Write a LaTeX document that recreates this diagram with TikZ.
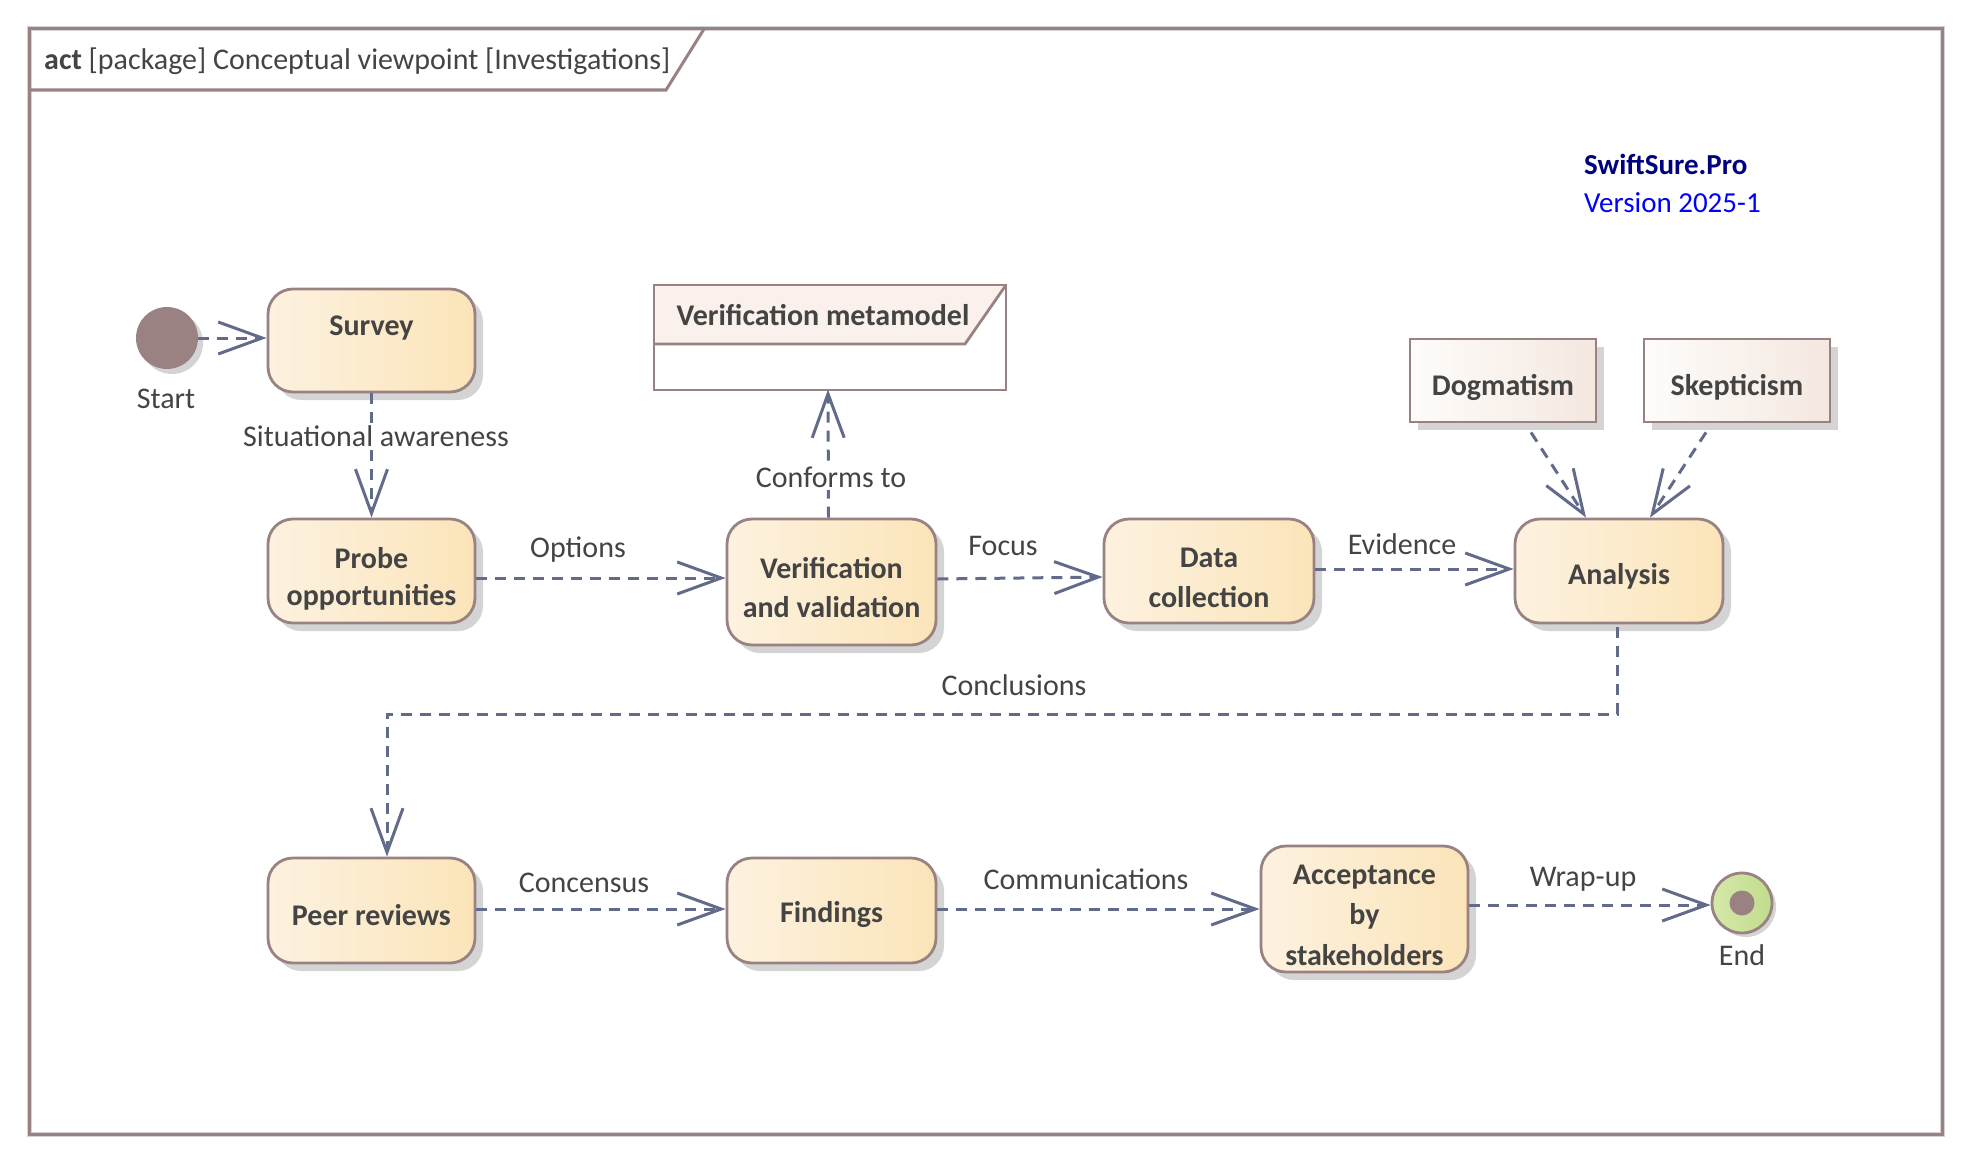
\documentclass[tikz,border=0pt]{standalone}
\usepackage{fontspec}
\setmainfont{Carlito}
\usetikzlibrary{arrows.meta,shadows,calc}
\definecolor{edgec}{RGB}{98,108,138}
\definecolor{boxline}{RGB}{154,130,130}
\definecolor{txt}{RGB}{68,68,68}
\definecolor{actl}{RGB}{253,242,224}
\definecolor{actr}{RGB}{251,228,185}
\definecolor{cll}{RGB}{254,252,250}
\definecolor{clr}{RGB}{244,232,224}
\definecolor{shadc}{RGB}{212,212,212}
\definecolor{hdr}{RGB}{250,240,236}
\definecolor{endl}{RGB}{214,232,170}
\definecolor{endr}{RGB}{192,220,140}
\definecolor{navy}{RGB}{0,0,128}
\tikzset{
  shad/.style={drop shadow={shadow xshift=8pt,shadow yshift=-8pt,fill=shadc,opacity=1}},
  actbox/.style={draw=boxline,line width=2.8pt,rounded corners=25pt,left color=actl,right color=actr,shad,minimum width=207pt,inner sep=0pt},
  clsbox/.style={draw=boxline,line width=2.8pt,left color=cll,right color=clr,shad,minimum width=186pt,minimum height=83pt,inner sep=0pt},
  btxt/.style={font=\fontsize{30}{34}\selectfont\bfseries,text=txt,align=center,inner sep=0pt,yshift=-2pt},
  ltxt/.style={font=\fontsize{30}{34}\selectfont,text=txt,inner sep=0pt,yshift=-2pt},
  flow/.style={draw=edgec,line width=3pt,dash pattern=on 11pt off 8pt,-{Straight Barb[length=44pt,width=32pt,line width=3pt]}}
}
\begin{document}
\begin{tikzpicture}[x=1pt,y=-1pt]
\useasboundingbox (0,0) rectangle (1971,1164);
% frame
\draw[draw=shadc,line width=5pt] (29,29) rectangle (1942,1134);
\draw[draw=boxline,line width=3pt] (29,29) rectangle (1942,1134);
\draw[draw=boxline,line width=3pt] (29,90) -- (666,90) -- (704,29);
\node[ltxt,anchor=west] (title) at (44,59) {\textbf{act} [package] Conceptual viewpoint [Investigations]};
% brand
\node[font=\fontsize{29}{33}\selectfont\bfseries,text=navy,anchor=west,inner sep=0pt] (brand) at (1584,164) {SwiftSure.Pro};
\node[font=\fontsize{29}{33}\selectfont,text=blue,anchor=west,inner sep=0pt] (ver) at (1584,203) {Version 2025-1};
% start
\node[circle,fill=boxline,minimum size=62pt,inner sep=0pt,drop shadow={shadow xshift=5pt,shadow yshift=-5pt,fill=shadc,opacity=1}] (start) at (167,338) {};
\node[ltxt] (startl) at (166,397) {Start};
% activities
\node[actbox,minimum height=103pt] (survey) at (371.5,340.5) {};
\node[btxt] at (371.5,326) {Survey};
\node[actbox,minimum height=104pt] (probe) at (371.5,571) {};
\node[btxt] at (371.5,556) {Probe};
\node[btxt] at (371.5,595) {opportunities};
\node[actbox,minimum height=126pt,minimum width=209pt] (vv) at (831.5,582) {};
\node[btxt] at (831.5,566) {Verification};
\node[btxt] at (831.5,605) {and validation};
\node[actbox,minimum height=104pt,minimum width=210pt] (data) at (1209,571) {};
\node[btxt] at (1209,556) {Data};
\node[btxt] at (1209,595) {collection};
\node[actbox,minimum height=104pt,minimum width=208pt] (analysis) at (1619,571) {};
\node[btxt] at (1619,574) {Analysis};
\node[actbox,minimum height=105pt] (peer) at (371.5,910.5) {};
\node[btxt] at (371.5,913) {Peer reviews};
\node[actbox,minimum height=105pt,minimum width=209pt] (findings) at (831.5,910.5) {};
\node[btxt] at (831.5,913) {Findings};
\node[actbox,minimum height=126pt] (accept) at (1364.5,909) {};
\node[btxt] at (1364.5,875) {Acceptance};
\node[btxt] at (1364.5,914) {by};
\node[btxt] at (1364.5,953) {stakeholders};
% end
\node[circle,draw=boxline,line width=2.8pt,left color=endl,right color=endr,minimum size=60pt,inner sep=0pt,drop shadow={shadow xshift=4pt,shadow yshift=-4pt,fill=shadc,opacity=1}] (end) at (1742,903) {};
\node[circle,fill=boxline,minimum size=25pt,inner sep=0pt] (endd) at (1742,903) {};
\node[ltxt] (endl) at (1742,953) {End};
% metamodel
\node[draw=boxline,line width=2.8pt,fill=white,minimum width=352pt,minimum height=105pt,inner sep=0pt] (meta) at (830,337.5) {};
\fill[hdr] (655.4,286.4) -- (1004.6,286.4) -- (965,344) -- (655.4,344) -- cycle;
\draw[draw=boxline,line width=2.8pt] (654,344) -- (965,344) -- (1006,285);
\node[btxt] at (823,313) {Verification metamodel};
% classes
\node[clsbox] (dogma) at (1503,380.5) {};
\node[btxt] at (1503,385) {Dogmatism};
\node[clsbox] (skep) at (1737,380.5) {};
\node[btxt] at (1737,385) {Skepticism};
% flows
\draw[flow] (start.east) -- (survey.west |- start.east);
\draw[flow] (survey.south) -- (probe.north);
\node[ltxt,fill=white,inner sep=2pt] at (376,434) {Situational awareness};
\draw[flow] (probe.east |- 0,578) -- (vv.west |- 0,578);
\node[ltxt] at (578,548) {Options};
\draw[flow] ($(vv.north)+(-3,0)$) -- ($(meta.south)+(-2,-2)$);
\node[ltxt,fill=white,inner sep=3pt] at (831,475) {Conforms to};
\draw[flow] (vv.east |- 0,579) -- (data.west |- 0,577);
\node[ltxt] at (1003,544) {Focus};
\draw[flow] (data.east |- 0,569) -- (analysis.west |- 0,569);
\node[ltxt] at (1402,542) {Evidence};
\draw[flow] ($(dogma.south)+(28,9)$) -- ($(analysis.north)+(-33,0)$);
\draw[flow] ($(skep.south)+(-31,9)$) -- ($(analysis.north)+(31,0)$);
\draw[flow] ($(analysis.south)+(-2,3)$) -- (1617,714) -- (387,714) -- ($(peer.north)+(15.5,0)$);
\node[ltxt] at (1014,683) {Conclusions};
\draw[flow] (peer.east |- 0,909) -- (findings.west |- 0,909);
\node[ltxt] at (584,881) {Concensus};
\draw[flow] (findings.east |- 0,909) -- (accept.west |- 0,909);
\node[ltxt] at (1086,877) {Communications};
\draw[flow] (accept.east |- 0,905) -- (end.west |- 0,905);
\node[ltxt] at (1583,877) {Wrap-up};
\end{tikzpicture}
\end{document}
